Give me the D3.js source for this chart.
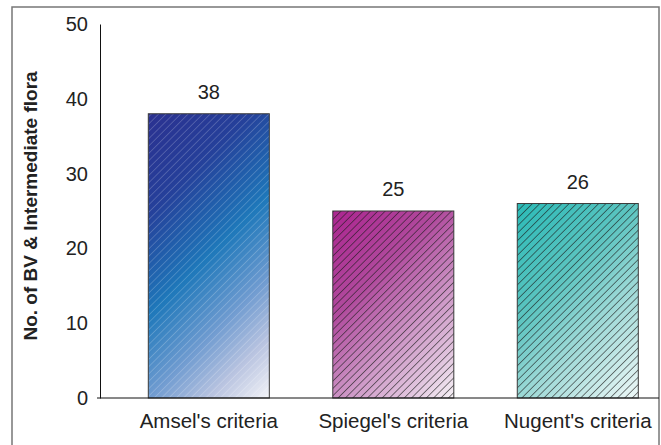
<!DOCTYPE html>
<html>
<head>
<meta charset="utf-8">
<script src="https://cdn.jsdelivr.net/npm/d3@7"></script>
<style>
  body { margin: 0; background: #fff; }
  svg { display: block; font-family: "Liberation Sans", Arial, sans-serif; }
</style>
</head>
<body>
<script>
// data
var categories = ["Amsel's criteria", "Spiegel's criteria", "Nugent's criteria"];
var values = [38, 25, 26];
var yTicks = [0, 10, 20, 30, 40, 50];

var width = 661, height = 445;

var svg = d3.select("body").append("svg")
  .attr("width", width)
  .attr("height", height);

var y = d3.scaleLinear()
  .domain([0, 50])
  .range([398, 24]);

var x = d3.scaleBand()
  .domain(categories)
  .range([100, 659])
  .paddingInner(0.344)
  .paddingOuter(0.187)
  .align(0.7);

// gradients (45 deg, top-left dark -> bottom-right light) + hatch patterns
var defs = svg.append("defs");
var gradStops = [
  [["0", "#2b3190"], ["0.25", "#25409a"], ["0.5", "#1e78ba"], ["0.7", "#6f9bd0"], ["0.85", "#b8c3e0"], ["1", "#f2f3f7"]],
  [["0", "#ac2590"], ["0.35", "#b04a9d"], ["0.6", "#c98dc1"], ["0.85", "#e2c6df"], ["1", "#f6f2f6"]],
  [["0", "#2bbbb7"], ["0.38", "#5cc4c0"], ["0.62", "#9ad8d5"], ["0.85", "#cdebea"], ["1", "#eef8f8"]]
];
var hatchColor = ["#ffffff", "#1a1a1a", "#1a1a1a"];
var hatchOpacity = [0.5, 1, 1];

gradStops.forEach(function(stops, i) {
  var bx = x(categories[i]), by = y(values[i]);
  var L = (x.bandwidth() + (y(0) - y(values[i]))) / 2;
  var g = defs.append("linearGradient")
    .attr("id", "grad" + i)
    .attr("gradientUnits", "userSpaceOnUse")
    .attr("x1", bx).attr("y1", by)
    .attr("x2", bx + L).attr("y2", by + L);
  stops.forEach(function(s) {
    g.append("stop").attr("offset", s[0]).attr("stop-color", s[1]);
  });

  var p = defs.append("pattern")
    .attr("id", "hatch" + i)
    .attr("patternUnits", "userSpaceOnUse")
    .attr("width", 5.2).attr("height", 5.2)
    .attr("patternTransform", "rotate(45)");
  p.append("line")
    .attr("x1", 0).attr("y1", 0).attr("x2", 0).attr("y2", 5.2)
    .attr("stroke", hatchColor[i])
    .attr("stroke-opacity", hatchOpacity[i])
    .attr("stroke-width", i === 0 ? 0.7 : 1.1);
});

// outer frame
svg.append("rect")
  .attr("x", 12).attr("y", 7)
  .attr("width", 647).attr("height", 460)
  .attr("fill", "none")
  .attr("stroke", "#777")
  .attr("stroke-width", 1.5);

// bars: gradient then hatch on top
var bars = svg.selectAll("g.bar")
  .data(values)
  .enter().append("g")
  .attr("class", "bar");

bars.append("rect")
  .attr("x", function(d, i) { return x(categories[i]); })
  .attr("y", function(d) { return y(d); })
  .attr("width", x.bandwidth())
  .attr("height", function(d) { return y(0) - y(d); })
  .attr("fill", function(d, i) { return "url(#grad" + i + ")"; });

bars.append("rect")
  .attr("x", function(d, i) { return x(categories[i]); })
  .attr("y", function(d) { return y(d); })
  .attr("width", x.bandwidth())
  .attr("height", function(d) { return y(0) - y(d); })
  .attr("fill", function(d, i) { return "url(#hatch" + i + ")"; })
  .attr("stroke", "#3a3a3a")
  .attr("stroke-width", 1);

// value labels
bars.append("text")
  .attr("x", function(d, i) { return x(categories[i]) + x.bandwidth() / 2; })
  .attr("y", function(d) { return y(d) - 15; })
  .attr("text-anchor", "middle")
  .attr("font-size", 20)
  .attr("fill", "#222")
  .text(function(d) { return d; });

// y axis
var yAxis = svg.append("g")
  .attr("transform", "translate(100,0)")
  .call(d3.axisLeft(y).tickValues(yTicks).tickSize(0).tickPadding(12));
yAxis.select(".domain").attr("stroke", "#111");
yAxis.selectAll("text")
  .attr("font-size", 20)
  .attr("fill", "#222")
  .attr("font-family", "Liberation Sans, Arial, sans-serif");

// x axis
var xAxis = svg.append("g")
  .attr("transform", "translate(0,398)")
  .call(d3.axisBottom(x).tickSize(0).tickPadding(15));
xAxis.select(".domain").remove();
xAxis.append("line")
  .attr("x1", 97).attr("x2", 659)
  .attr("stroke", "#111");
xAxis.selectAll("text")
  .attr("font-size", 20.5)
  .attr("fill", "#222")
  .attr("font-family", "Liberation Sans, Arial, sans-serif");

// y label
svg.append("text")
  .attr("transform", "translate(37,206) rotate(-90)")
  .attr("text-anchor", "middle")
  .attr("font-size", 19)
  .attr("font-weight", "bold")
  .attr("fill", "#222")
  .text("No. of BV & Intermediate flora");
</script>
</body>
</html>
